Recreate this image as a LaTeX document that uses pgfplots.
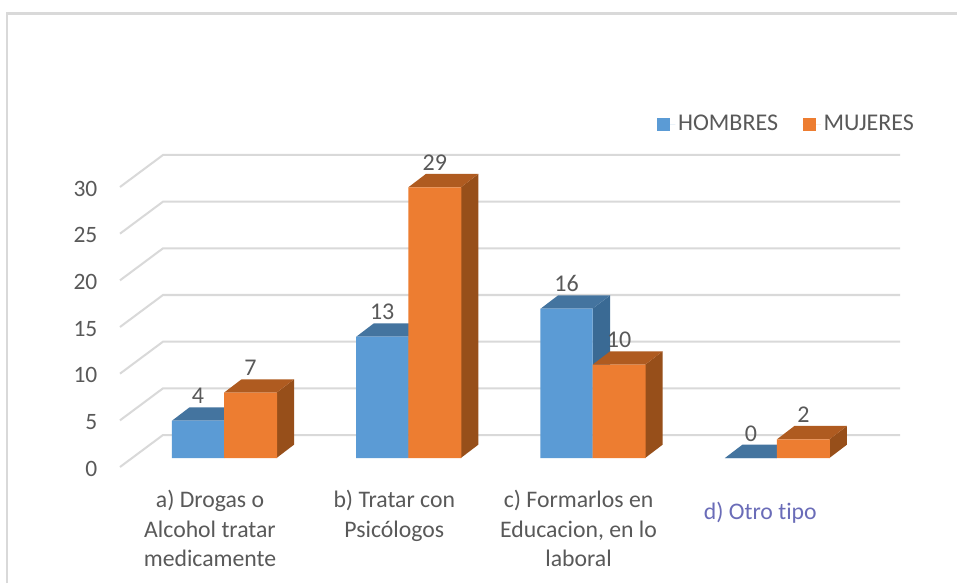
\documentclass[border=0pt]{standalone}
\usepackage{pgfplots}
\pgfplotsset{compat=1.18}
\usepackage{fontspec}
\setmainfont[Ligatures=NoCommon]{Carlito}
\definecolor{txt}{HTML}{595959}
\definecolor{gridc}{HTML}{D9D9D9}
\definecolor{frame}{HTML}{D9D9D9}
\definecolor{bluef}{HTML}{5B9BD5}
\definecolor{bluet}{HTML}{44749F}
\definecolor{blues}{HTML}{3A6A94}
\definecolor{orf}{HTML}{ED7D31}
\definecolor{ort}{HTML}{AF5B20}
\definecolor{ors}{HTML}{974F1A}
\definecolor{dlab}{HTML}{6A6CB8}
% depth of the 3D box, in axis units
\def\ddx{0.095}
\def\ddy{1.43}
% #1 left x, #2 right x, #3 value, #4 top colour, #5 side colour
\newcommand{\cube}[5]{%
  \pgfmathsetmacro\xa{#1+\ddx}%
  \pgfmathsetmacro\xb{#2+\ddx}%
  \pgfmathsetmacro\yb{#3+\ddy}%
  \addplot[forget plot,fill=#5,draw=none] coordinates {(#2,0)(\xb,\ddy)(\xb,\yb)(#2,#3)(#2,0)};
  \addplot[forget plot,fill=#4,draw=none] coordinates {(#1,#3)(#2,#3)(\xb,\yb)(\xa,\yb)(#1,#3)};
}
\newcommand{\gline}[1]{%
  \pgfmathsetmacro\ya{#1-0.964}%
  \pgfmathsetmacro\yb{#1+2.465}%
  \addplot[forget plot,gridc,line width=1.5pt] coordinates {(-0.5643,\ya)(-0.331,\yb)(3.668,\yb)};
}
\pgfplotsset{
  sq/.style={legend image code/.code={\fill[##1,draw=none] (0pt,-4.9pt) rectangle (9.8pt,4.9pt);\path (0pt,0pt) -- (13.6pt,0pt);}},
}
\begin{document}
\begin{tikzpicture}
\useasboundingbox (0,0) rectangle (717.75pt,437.25pt);
\fill[white] (0,0) rectangle (717.75pt,437.25pt);
\draw[frame,line width=1.8pt] (5.4pt,0) -- (5.4pt,427.2pt) -- (717.75pt,427.2pt);
\begin{axis}[
  at={(90pt,87pt)},anchor=south west,
  scale only axis,width=585pt,height=234pt,
  xmin=-0.5643,xmax=3.668,ymin=-0.964,ymax=32.465,
  clip=false,
  axis line style={draw=none},
  major tick length=0pt,
  tick pos=left,
  ytick={-0.964,4.036,9.036,14.036,19.036,24.036,29.036},
  yticklabels={0,5,10,15,20,25,30},
  xtick={-0.076,0.924,1.924,2.91},
  xticklabels={{a) Drogas o\\Alcohol tratar\\medicamente},{b) Tratar con\\Psicólogos},{c) Formarlos en\\Educacion, en lo\\laboral},{\raisebox{-10.5pt}[11pt][4pt]{\textcolor{dlab}{d) Otro tipo}}}},
  yticklabel style={font=\fontsize{17.6}{20}\selectfont,text=txt,xshift=-13.5pt,yshift=-1.2pt},
  xticklabel style={font=\fontsize{17.8}{22.1}\selectfont,text=txt,align=center,yshift=-14pt},
  legend columns=2,
  legend style={at={(0.6885,1.099)},anchor=west,draw=none,fill=none,inner sep=0pt,
    font=\fontsize{18}{20}\selectfont,text=txt,
    /tikz/column 2/.style={column sep=16.5pt}},
  legend cell align=left,
  nodes near coords style={font=\fontsize{18}{20}\selectfont,text=txt,yshift=9pt,
    /pgf/number format/assume math mode=true},
]
\gline{0}\gline{5}\gline{10}\gline{15}\gline{20}\gline{25}\gline{30}
% HOMBRES boxes
\cube{-0.282}{0}{4}{bluet}{blues}
\cube{0.718}{1}{13}{bluet}{blues}
\cube{1.718}{2}{16}{bluet}{blues}
\cube{2.718}{3}{0}{bluet}{blues}
% MUJERES boxes
\cube{0}{0.285}{7}{ort}{ors}
\cube{1}{1.285}{29}{ort}{ors}
\cube{2}{2.285}{10}{ort}{ors}
\cube{3}{3.285}{2}{ort}{ors}
% front faces
\addplot[ybar,bar width=39.1pt,bar shift=-19.55pt,fill=bluef,draw=none,sq,nodes near coords,
  nodes near coords style={xshift=-19.55pt}]
  coordinates {(0,4)(1,13)(2,16)(3,0)};
\addlegendentry{HOMBRES}
\addplot[ybar,bar width=39.8pt,bar shift=19.9pt,fill=orf,draw=none,sq,nodes near coords,
  nodes near coords style={xshift=19.9pt}]
  coordinates {(0,7)(1,29)(2,10)(3,2)};
\addlegendentry{MUJERES}
\end{axis}
\end{tikzpicture}
\end{document}
